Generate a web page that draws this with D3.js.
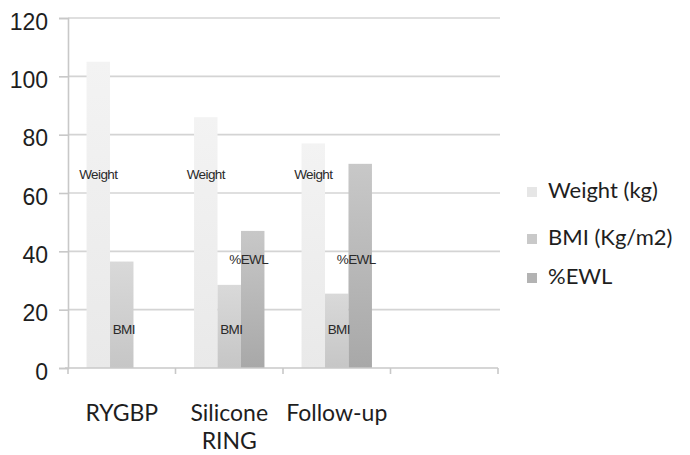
<!DOCTYPE html>
<html>
<head>
<meta charset="utf-8">
<script src="https://cdn.jsdelivr.net/npm/d3@7"></script>
<style>
  html, body { margin: 0; padding: 0; background: #fff; overflow: hidden; }
  svg { display: block; }
</style>
</head>
<body>
<svg id="chart" width="690" height="455"></svg>
<script>
// ---- data ----
const categories = ["RYGBP", "Silicone\nRING", "Follow-up", ""];
const seriesNames = ["Weight (kg)", "BMI (Kg/m2)", "%EWL"];
const weightValues = [105, 86, 77, null];
const bmiValues = [36.5, 28.5, 25.5, null];
const ewlValues = [null, 47, 70, null];
const barLabels = ["Weight", "BMI", "%EWL"];
const labelAnchorValues = [66, 13, 37]; // where the in-bar labels sit (data units)
const yTicks = [0, 20, 40, 60, 80, 100, 120];

(function () {
// ---- layout ----
const svg = d3.select("#chart");
const mLeft = 68, mRight = 498, mTop = 18, mBottom = 368;
const x = d3.scaleBand().domain(d3.range(categories.length)).range([mLeft, mRight]).paddingInner(0).paddingOuter(0);
const y = d3.scaleLinear().domain([0, 120]).range([mBottom, mTop]);
const inner = d3.scaleBand().domain([0, 1, 2]).range([0, x.bandwidth()]).paddingInner(0).paddingOuter(0.79);

const defs = svg.append("defs");
const grads = [["#f3f3f3", "#e9e9e9"], ["#d9d9d9", "#c6c6c6"], ["#c8c8c8", "#a8a8a8"]];
grads.forEach((g, i) => {
  const lg = defs.append("linearGradient").attr("id", "g" + i).attr("x1", 0).attr("y1", 0).attr("x2", 0).attr("y2", 1);
  lg.append("stop").attr("offset", "0%").attr("stop-color", g[0]);
  lg.append("stop").attr("offset", "100%").attr("stop-color", g[1]);
});
const legendColors = ["#e6e6e6", "#c9c9c9", "#b3b3b3"];

// gridlines
svg.append("g").selectAll("line").data(yTicks.filter(d => d > 0)).join("line")
  .attr("x1", mLeft).attr("x2", mRight + 2)
  .attr("y1", d => y(d)).attr("y2", d => y(d))
  .attr("stroke", "#d4d4d4").attr("stroke-width", 1.6);

// y axis
const yAxis = svg.append("g").attr("transform", `translate(${mLeft},0)`)
  .call(d3.axisLeft(y).tickValues(yTicks).tickSize(9).tickPadding(11));
yAxis.select(".domain").attr("stroke", "#c8c8c8").attr("stroke-width", 1.6);
yAxis.selectAll(".tick line").attr("stroke", "#c8c8c8").attr("stroke-width", 1.6);
yAxis.selectAll(".tick text").attr("font-family", "Liberation Sans, Arial, sans-serif")
  .attr("font-size", 23).attr("fill", "#1e1e1e").attr("dy", "0.48em");

// bars
const series = [weightValues, bmiValues, ewlValues];
series.forEach((vals, si) => {
  svg.append("g").selectAll("rect").data(vals.map((v, i) => ({ v, i })).filter(d => d.v != null)).join("rect")
    .attr("x", d => x(d.i) + inner(si))
    .attr("width", inner.bandwidth())
    .attr("y", d => y(d.v))
    .attr("height", d => y(0) - y(d.v))
    .attr("fill", `url(#g${si})`);
});

// x axis
const xAxis = svg.append("g").attr("transform", `translate(0,${mBottom})`);
xAxis.append("line").attr("x1", mLeft - 3).attr("x2", mRight).attr("y1", 0).attr("y2", 0)
  .attr("stroke", "#c8c8c8").attr("stroke-width", 1.6);
const boundaries = d3.range(categories.length + 1).map(i => mLeft + i * x.bandwidth());
xAxis.selectAll("line.t").data(boundaries).join("line").attr("class", "t")
  .attr("x1", d => d).attr("x2", d => d).attr("y1", 0).attr("y2", 6)
  .attr("stroke", "#c8c8c8").attr("stroke-width", 1.6);

// category labels
const catG = svg.append("g");
categories.forEach((c, i) => {
  const cx = x(i) + x.bandwidth() / 2;
  const t = catG.append("text")
    .attr("x", cx)
    .attr("y", 421)
    .attr("text-anchor", "middle")
    .attr("font-family", "Lato, 'Open Sans', sans-serif")
    .attr("font-size", 23)
    .attr("fill", "#1e1e1e");
  c.split("\n").forEach((line, k) => {
    t.append("tspan").attr("x", cx).attr("dy", k === 0 ? 0 : 28).text(line);
  });
});

// in-bar labels
series.forEach((vals, si) => {
  svg.append("g").selectAll("text").data(vals.map((v, i) => ({ v, i })).filter(d => d.v != null)).join("text")
    .attr("x", d => x(d.i) + inner(si) + inner.bandwidth() / 2 - (si === 2 ? 4 : (si === 1 ? -2 : 0)))
    .attr("y", y(labelAnchorValues[si]))
    .attr("text-anchor", "middle")
    .attr("dominant-baseline", "middle")
    .attr("font-family", "Liberation Sans, Arial, sans-serif")
    .attr("font-size", 13.5)
    .attr("letter-spacing", -0.6)
    .attr("fill", "#2a2a2a")
    .text(barLabels[si]);
});

// legend
const legY = [192, 239, 278];
const leg = svg.append("g");
seriesNames.forEach((n, i) => {
  leg.append("rect").attr("x", 527).attr("y", legY[i] - 5).attr("width", 10).attr("height", 10).attr("fill", legendColors[i]);
  leg.append("text").attr("x", 548).attr("y", legY[i]).attr("dominant-baseline", "middle")
    .attr("font-family", "Lato, 'Open Sans', sans-serif").attr("font-size", 22).attr("fill", "#1e1e1e")
    .text(n);
});
})();
</script>
</body>
</html>
